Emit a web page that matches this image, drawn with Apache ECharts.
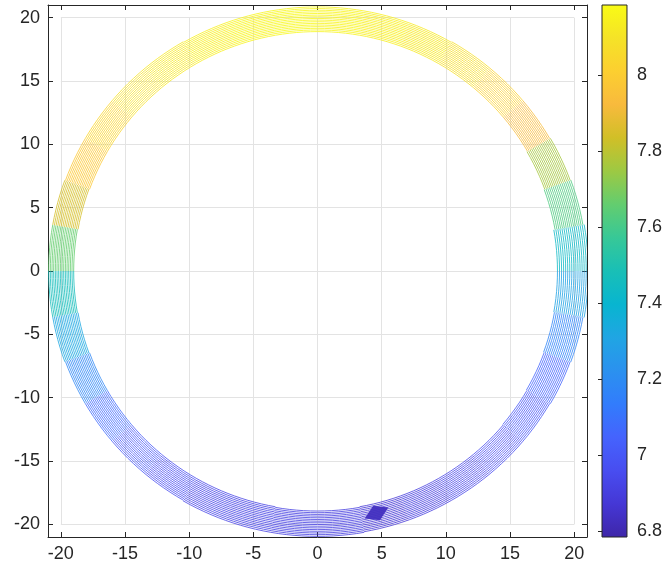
<!DOCTYPE html>
<html><head><meta charset="utf-8">
<script src="https://cdn.jsdelivr.net/npm/echarts@6/dist/echarts.min.js"></script>
<style>html,body{margin:0;padding:0;background:#fff}#c{width:665px;height:575px}</style>
</head><body><div id="c"></div>
<script>
const sectorStart = [0,10,20,30,40,50,60,70,80,90,100,110,120,130,140,150,160,170,180,190,200,210,220,230,240,250,260,270,280,290,300,310,320,330,340,350];
const values = [7.43,7.62,7.76,7.93,8.02,8.08,8.12,8.14,8.16,8.17,8.16,8.14,8.12,8.09,8.04,7.98,7.84,7.66,7.47,7.32,7.18,7.07,7.0,6.96,6.93,6.92,6.91,6.9,6.87,6.9,6.93,6.96,7.0,7.05,7.17,7.3];
const innerR = [18.7,18.8,18.85,18.9,18.9,18.9,18.9,18.9,18.9,18.9,18.9,18.9,18.9,18.9,18.9,18.9,18.95,19.0,19.0,18.95,18.9,18.9,18.9,18.9,18.9,18.9,18.95,18.95,18.9,18.9,18.9,18.9,18.85,18.8,18.75,18.7];
const outerR = [21.1,21.0,20.95,20.9,20.9,20.9,20.85,20.85,20.85,20.85,20.85,20.85,20.9,20.9,20.9,20.9,20.95,20.95,20.95,20.95,20.9,20.9,20.9,20.9,20.95,20.95,20.95,20.95,20.9,20.9,20.9,20.9,20.9,20.95,21.0,21.1];
// small dark filled contour patch near the bottom
const patchX = [4.6], patchY = [-19.1], patchV = [6.83];
const xTicks = [-20,-15,-10,-5,0,5,10,15,20];
const yTicks = [-20,-15,-10,-5,0,5,10,15,20];
const cbTicks = [6.8,7,7.2,7.4,7.6,7.8,8];
const cbMin = 6.784, cbMax = 8.184;
const parula = ['#3e26a8','#4537d5','#484df0','#4563fd','#327cfc','#2b91ef','#20a5e3','#08b5d0','#19bfb6','#37c897','#63cd6f','#9dc943','#d1bf27','#f8ba3d','#fccf30','#f5e327','#f9fb15'];

const ringData = sectorStart.map((a,i)=>[a, a+10, innerR[i], outerR[i], values[i]]);
const patchData = patchX.map((x,i)=>[x, patchY[i], patchV[i]]);

const txt = '#262626', font = 'Liberation Sans';
const chart = echarts.init(document.getElementById('c'), null, {renderer:'canvas'});
const gridMain = {left:48, right:78, top:5, bottom:38};
const baseAxis = (pos, ticks) => ({
  type:'value', min:-21, max:21, position:pos,
  axisLine:{show:true, onZero:false, lineStyle:{color:txt, width:1}},
  axisTick:{show:true, inside:true, length:5, customValues:ticks, lineStyle:{color:txt}},
  axisLabel:{show:true, customValues:ticks, color:txt, fontSize:18, fontFamily:font, margin:8},
  splitLine:{show:false}
});
const gridAxis = () => ({
  type:'value', min:-20, max:20, interval:5,
  axisLine:{show:false}, axisTick:{show:false}, axisLabel:{show:false},
  splitLine:{show:true, lineStyle:{color:'#e3e3e3', width:1}}
});
const xa = baseAxis('bottom', xTicks), xt = baseAxis('top', xTicks); xt.axisLabel = {show:false};
const ya = baseAxis('left', yTicks), yr = baseAxis('right', yTicks); yr.axisLabel = {show:false};
const pxX = 539/42, pxY = 532/42;
chart.setOption({
  animation:false,
  grid:[
    {left:48+pxX, right:78+pxX, top:5+pxY, bottom:38+pxY},
    gridMain,
    {left:602, width:26, top:5, height:532}
  ],
  xAxis:[
    Object.assign(gridAxis(), {gridIndex:0}),
    Object.assign(xa, {gridIndex:1}),
    Object.assign(xt, {gridIndex:1}),
    {gridIndex:2, type:'value', min:0, max:1, show:false}
  ],
  yAxis:[
    Object.assign(gridAxis(), {gridIndex:0}),
    Object.assign(ya, {gridIndex:1}),
    Object.assign(yr, {gridIndex:1}),
    {gridIndex:2, type:'value', min:cbMin, max:cbMax, position:'right',
     axisLine:{show:false},
     axisTick:{show:true, inside:true, length:4, customValues:cbTicks, lineStyle:{color:txt}},
     axisLabel:{show:true, customValues:cbTicks, color:txt, fontSize:18, fontFamily:font, margin:10},
     splitLine:{show:false}}
  ],
  visualMap:[
    {show:false, type:'continuous', seriesIndex:0, dimension:4, min:cbMin, max:cbMax, inRange:{color:parula}},
    {show:false, type:'continuous', seriesIndex:2, dimension:2, min:cbMin, max:cbMax, inRange:{color:parula}}
  ],
  series:[
    {
      type:'custom', xAxisIndex:1, yAxisIndex:1, clip:true,
      data:ringData,
      encode:{x:[0,1], y:[2,3]},
      renderItem(params, api){
        const t0=api.value(0), t1=api.value(1), rIn=api.value(2), rOut=api.value(3);
        const color=api.visual('color');
        const N=16, steps=6, children=[];
        for(let k=0;k<N;k++){
          const r=rIn+(rOut-rIn)*k/(N-1);
          const pts=[];
          for(let s=0;s<=steps;s++){
            const t=(t0+(t1-t0)*s/steps)*Math.PI/180;
            pts.push(api.coord([r*Math.cos(t), r*Math.sin(t)]));
          }
          children.push({type:'polyline', shape:{points:pts}, style:{stroke:color, lineWidth:1, fill:null, opacity:0.8}});
        }
        return {type:'group', children};
      }
    },
    {
      type:'custom', xAxisIndex:3, yAxisIndex:3, data:[[0,1]],
      renderItem(params, api){
        const p0=api.coord([0,cbMax]), p1=api.coord([1,cbMin]);
        const stops=parula.map((c,i)=>({offset:i/(parula.length-1), color:c}));
        return {type:'rect', shape:{x:p0[0], y:p0[1], width:p1[0]-p0[0], height:p1[1]-p0[1]},
          style:{fill:new echarts.graphic.LinearGradient(0,1,0,0,stops), stroke:txt, lineWidth:1}};
      }
    },
    {
      type:'scatter', xAxisIndex:1, yAxisIndex:1, data:patchData,
      symbol:'diamond', symbolSize:[26,16], symbolRotate:25, itemStyle:{opacity:0.95}
    }
  ]
});
</script></body></html>
